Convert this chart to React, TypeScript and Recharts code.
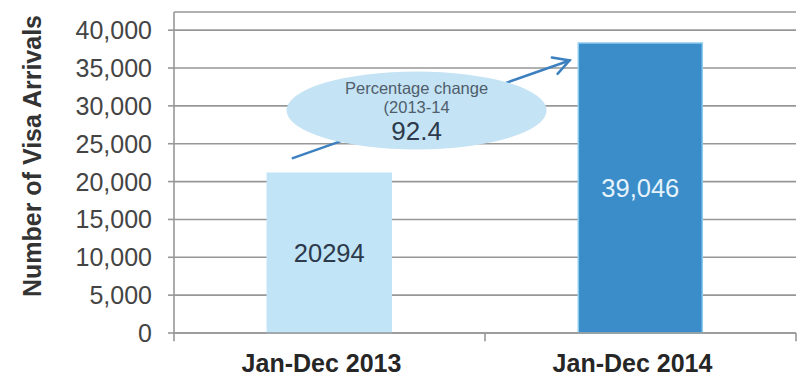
import React from "react";
import {
  BarChart,
  Bar,
  XAxis,
  YAxis,
  CartesianGrid,
  ReferenceLine,
  ReferenceDot,
  LabelList,
  Cell,
} from "recharts";

// ---- data ----
const categories = ["Jan-Dec 2013", "Jan-Dec 2014"];
const arrivals = [21100, 38300];
const barLabels = ["20294", "39,046"];
const yTicks = [0, 5000, 10000, 15000, 20000, 25000, 30000, 35000, 40000];
const yMax = 42400;
const yTitle = "Number of Visa Arrivals";
const noteLines = ["Percentage change", "(2013-14"];
const noteValue = "92.4";
const noteCenter = { x: 0.39, y: 29400 };
const arrowFrom = { x: 0.191, y: 23100 };
const arrowTo = { x: 0.636, y: 36000 };
const boundaryTicks = [0, 0.5, 1];

// ---- styles ----
const FONT = "'Liberation Sans', Arial, Helvetica, sans-serif";
const barColors = ["#c1e4f6", "#3a8dc8"];
const barStrokes = ["#c1e4f6", "#8ccbee"];
const labelColors = ["#2c3a4c", "#e6f3fb"];
const gridColor = "#979797";

const data = categories.map((c, i) => ({
  name: c,
  value: arrivals[i],
  label: barLabels[i],
}));

const fmt = (v: number) => String(v).replace(/\B(?=(\d{3})+(?!\d))/g, ",");

const YTick = (props: any) => {
  const { x, y, payload } = props;
  return (
    <text
      x={x}
      y={y}
      textAnchor="end"
      dy="0.36em"
      fontSize={25}
      fill="#444"
      fontFamily={FONT}
    >
      {fmt(payload.value)}
    </text>
  );
};

const XTick = (props: any) => {
  const { x, y, payload } = props;
  return (
    <text
      x={x - 8}
      y={y + 31}
      textAnchor="middle"
      fontSize={25}
      fontWeight="bold"
      fill="#262626"
      fontFamily={FONT}
    >
      {payload.value}
    </text>
  );
};

const BarText = (props: any) => {
  const { x, y, width, height, value, index } = props;
  const cx = Number(x) + Number(width) / 2;
  const cy = Number(y) + Number(height) / 2;
  return (
    <text
      x={cx}
      y={cy}
      textAnchor="middle"
      dy="0.36em"
      fontSize={25.5}
      fill={labelColors[index] || "#333"}
      fontFamily={FONT}
    >
      {value}
    </text>
  );
};

const NoteShape = (props: any) => {
  const { cx, cy } = props;
  return (
    <g fontFamily={FONT} textAnchor="middle">
      <ellipse cx={cx} cy={cy} rx={130} ry={39} fill="#c4e3f4" />
      <text x={cx} y={cy - 22} dy="0.36em" fontSize={16.5} fill="#4f5d6c">
        {noteLines[0]}
      </text>
      <text x={cx} y={cy - 3} dy="0.36em" fontSize={16.5} fill="#4f5d6c">
        {noteLines[1]}
      </text>
      <text x={cx} y={cy + 20} dy="0.36em" fontSize={26} fill="#2c3a4c">
        {noteValue}
      </text>
    </g>
  );
};

const ArrowShape = (props: any) => {
  const { x1, y1, x2, y2 } = props;
  const a = Math.atan2(y2 - y1, x2 - x1);
  const L = 18;
  const s = 0.5;
  const h1 = { x: x2 - L * Math.cos(a - s), y: y2 - L * Math.sin(a - s) };
  const h2 = { x: x2 - L * Math.cos(a + s), y: y2 - L * Math.sin(a + s) };
  return (
    <g stroke="#3d80c0" strokeWidth={2.5} fill="none" strokeLinecap="round">
      <line x1={x1} y1={y1} x2={x2} y2={y2} />
      <polyline points={`${h1.x},${h1.y} ${x2},${y2} ${h2.x},${h2.y}`} />
    </g>
  );
};

const YTitle = () => (
  <text
    transform="translate(32,156) rotate(-90)"
    textAnchor="middle"
    dy="0.36em"
    fontSize={25}
    fontWeight="bold"
    fill="#333"
    fontFamily={FONT}
  >
    {yTitle}
  </text>
);

export default function App() {
  return (
    <div style={{ position: "absolute", left: 0, top: 0, width: 801, height: 381, background: "#fff" }}>
      <BarChart
        width={801}
        height={381}
        data={data}
        margin={{ top: 12, right: 5, bottom: 0, left: 0 }}
        barCategoryGap="30%"
      >
        <CartesianGrid horizontal vertical={false} stroke={gridColor} strokeWidth={1.6} />
        <XAxis
          dataKey="name"
          height={48}
          axisLine={{ stroke: gridColor, strokeWidth: 1.6 }}
          tickLine={false}
          tick={<XTick />}
          interval={0}
        />
        <XAxis xAxisId="ann" type="number" domain={[0, 1]} hide />
        <YAxis
          width={174}
          domain={[0, yMax]}
          ticks={yTicks}
          interval={0}
          tickSize={6}
          tickMargin={16}
          axisLine={{ stroke: gridColor, strokeWidth: 1.6 }}
          tickLine={{ stroke: gridColor, strokeWidth: 1.6 }}
          tick={<YTick />}
          label={<YTitle />}
        />
        <Bar dataKey="value" isAnimationActive={false} strokeWidth={1.5}>
          {data.map((d, i) => (
            <Cell key={d.name} fill={barColors[i]} stroke={barStrokes[i]} />
          ))}
          <LabelList dataKey="label" content={<BarText />} />
        </Bar>
        {boundaryTicks.map((b) => (
          <ReferenceLine
            key={b}
            xAxisId="ann"
            segment={[
              { x: b, y: 0 },
              { x: b, y: -1100 },
            ]}
            ifOverflow="visible"
            stroke={gridColor}
            strokeWidth={1.6}
          />
        ))}
        <ReferenceLine
          xAxisId="ann"
          segment={[arrowFrom, arrowTo]}
          ifOverflow="visible"
          shape={<ArrowShape />}
        />
        <ReferenceDot
          xAxisId="ann"
          x={noteCenter.x}
          y={noteCenter.y}
          ifOverflow="visible"
          shape={<NoteShape />}
        />
      </BarChart>
    </div>
  );
}
